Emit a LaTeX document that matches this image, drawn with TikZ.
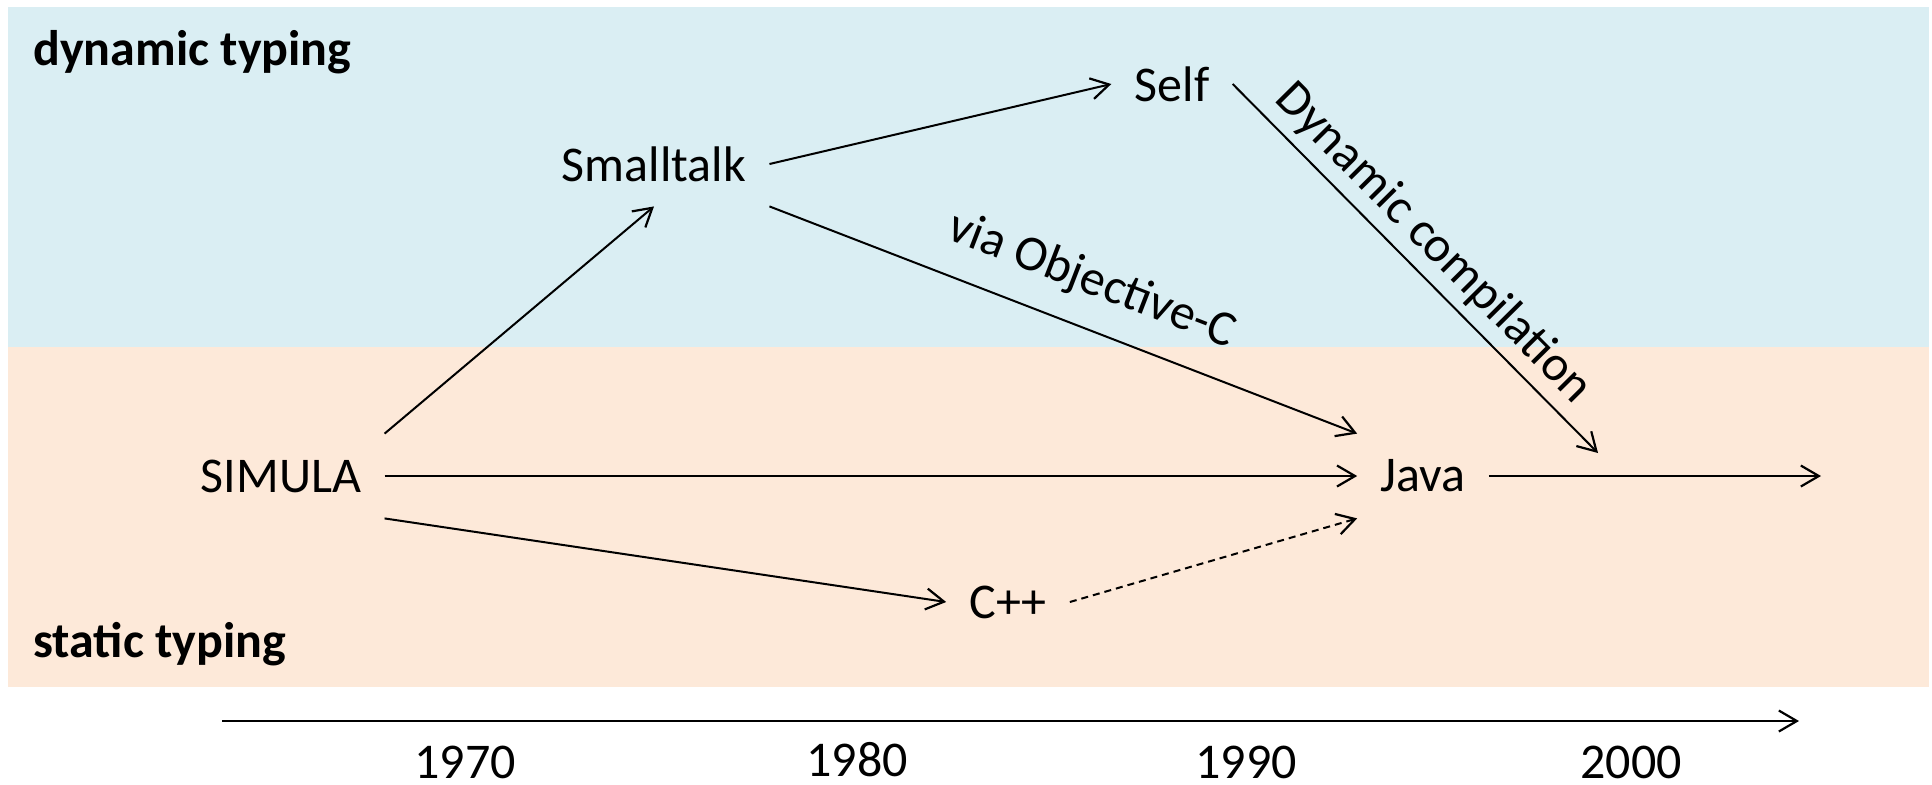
\documentclass[tikz,border=0pt]{standalone}
\usepackage{fontspec}
\setmainfont{Carlito}
\usetikzlibrary{arrows.meta}
\definecolor{dynbg}{HTML}{DAEEF3}
\definecolor{statbg}{HTML}{FDE9D9}
\tikzset{
  lang/.style={inner xsep=11.5pt, inner ysep=0pt, minimum height=42pt, font=\fontsize{25}{30}\selectfont},
  yearlbl/.style={inner sep=0pt, font=\fontsize{25}{30}\selectfont},
  zonelbl/.style={anchor=base west, inner sep=0pt, font=\fontsize{25}{30}\selectfont\bfseries},
  edgelbl/.style={inner sep=0pt, font=\fontsize{25}{30}\selectfont, sloped},
  arr/.style={line width=1pt, -{Straight Barb[length=9pt, width=10.5pt, line width=1.1pt]}},
  dasharr/.style={arr, dash pattern=on 3.5pt off 2.5pt}
}
\begin{document}
\begin{tikzpicture}[x=0.5pt, y=-0.5pt]
\useasboundingbox (0,0) rectangle (1932,784);
% backgrounds
\fill[dynbg] (8,7) rectangle (1929,347);
\fill[statbg] (8,347) rectangle (1929,687);
% zone labels
\node[zonelbl] (dyn) at (33,65) {dynamic typing};
\node[zonelbl] (stat) at (33,657) {static typing};
% languages
\node[lang] (simula) at (281,476) {SIMULA};
\node[lang] (smalltalk) at (654,164) {Smalltalk};
\node[lang] (self) at (1172,84) {Self};
\node[lang] (java) at (1423,476) {Java};
\node[lang] (cpp) at (1008,602) {C++};
\coordinate (dynend) at (1598,453);
\coordinate (javaend) at (1821,476);
% connectors
\draw[arr] (simula.north east) -- (smalltalk.south);
\draw[arr] (smalltalk.east) -- (self.west);
\draw[arr] (smalltalk.south east) -- node[edgelbl, pos=0.52, above=12pt] (viaobjc) {via Objective-C} (java.north west);
\draw[arr] (self.east) -- node[edgelbl, pos=0.49, above=4pt] (dyncomp) {Dynamic compilation} (dynend);
\draw[arr] (simula.east) -- (java.west);
\draw[arr] (simula.south east) -- (cpp.west);
\draw[dasharr] (cpp.east) -- (java.south west);
\draw[arr] (java.east) -- (javaend);
% time axis
\coordinate (axstart) at (222,721);
\coordinate (axend) at (1799,721);
\draw[arr] (axstart) -- (axend);
\node[yearlbl] (y1970) at (465,762) {1970};
\node[yearlbl] (y1980) at (857,760) {1980};
\node[yearlbl] (y1990) at (1246,762) {1990};
\node[yearlbl] (y2000) at (1631,762) {2000};
\end{tikzpicture}
\end{document}
